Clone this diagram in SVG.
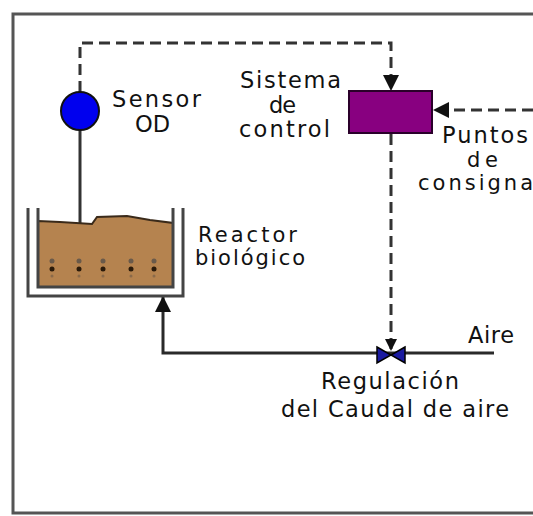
<svg xmlns="http://www.w3.org/2000/svg" width="533" height="516" viewBox="0 0 533 516">
<defs>
<style>
.t{font-family:"DejaVu Sans","Verdana",sans-serif;font-size:22.5px;fill:#111}
.s{font-size:21px}
.dash{fill:none;stroke:#333;stroke-width:3;stroke-dasharray:11 6}
.solid{fill:none;stroke:#2a2a2a;stroke-width:3}
.wall{fill:none;stroke:#444;stroke-width:3}
</style>
<marker id="arr" viewBox="0 0 16 16" refX="15" refY="8" markerWidth="16" markerHeight="16" markerUnits="userSpaceOnUse" orient="auto">
<path d="M0,0 L16,8 L0,16 Z" fill="#111"/>
</marker>
<marker id="arrs" viewBox="0 0 12 12" refX="11" refY="6" markerWidth="12" markerHeight="12" markerUnits="userSpaceOnUse" orient="auto">
<path d="M0,0 L12,6 L0,12 Z" fill="#111"/>
</marker>
</defs>
<rect width="533" height="516" fill="#fff"/>
<path d="M533,14 H13 V513 H533" fill="none" stroke="#555" stroke-width="3"/>

<g id="connectors">
<path class="dash" d="M80,92 V43 H391 V90" marker-end="url(#arr)"/>
<path class="dash" d="M533,110 H434" marker-end="url(#arr)"/>
<path class="dash" d="M391,134 V350" marker-end="url(#arrs)"/>
<path class="solid" d="M494,353 H163 V297" marker-end="url(#arr)"/>
<line x1="80" y1="129" x2="80" y2="252" stroke="#333" stroke-width="3"/>
</g>

<g id="sensor">
<circle cx="80" cy="111" r="19" fill="#0000ee" stroke="#111" stroke-width="2"/>
<text class="t"><tspan x="112" y="107" textLength="89" lengthAdjust="spacing">Sensor</tspan><tspan x="135" y="132" textLength="35" lengthAdjust="spacing">OD</tspan></text>
</g>

<g id="control">
<rect x="349" y="91" width="83" height="42" fill="#880080" stroke="#2a002a" stroke-width="2"/>
<text class="t"><tspan x="240" y="88" textLength="101" lengthAdjust="spacing">Sistema</tspan><tspan x="269" y="113" textLength="27" lengthAdjust="spacing">de</tspan><tspan x="239" y="137" textLength="91" lengthAdjust="spacing">control</tspan></text>
</g>

<g id="consigna">
<text class="t"><tspan x="442" y="143" textLength="86" lengthAdjust="spacing">Puntos</tspan></text>
<text class="t s"><tspan x="467" y="167" textLength="31" lengthAdjust="spacing">de</tspan><tspan x="418" y="190" textLength="115" lengthAdjust="spacing">consigna</tspan></text>
</g>

<g id="reactor">
<path d="M38,221 L60,222 L92,224 L97,217 L127,216 L150,220 L173,223 L173,287 L38,287 Z" fill="#b5834f" stroke="#3a2a1a" stroke-width="2"/>
<path class="wall" d="M38,208 V287 H173 V208"/>
<path class="wall" d="M28,208 V296 H183 V208"/>
<g fill="#2a1a0a">
<circle cx="52" cy="261" r="2.5" fill="#6a5a4a"/><circle cx="52" cy="269" r="2.5"/><circle cx="52" cy="276" r="1.5" fill="#8a6a4a"/>
<circle cx="79" cy="261" r="2.5" fill="#6a5a4a"/><circle cx="79" cy="269" r="2.5"/><circle cx="79" cy="276" r="1.5" fill="#8a6a4a"/>
<circle cx="103" cy="261" r="2.5" fill="#6a5a4a"/><circle cx="103" cy="269" r="2.5"/><circle cx="103" cy="276" r="1.5" fill="#8a6a4a"/>
<circle cx="131" cy="261" r="2.5" fill="#6a5a4a"/><circle cx="131" cy="269" r="2.5"/><circle cx="131" cy="276" r="1.5" fill="#8a6a4a"/>
<circle cx="154" cy="261" r="2.5" fill="#6a5a4a"/><circle cx="154" cy="269" r="2.5"/><circle cx="154" cy="276" r="1.5" fill="#8a6a4a"/>
</g>
<text class="t s"><tspan x="198" y="242" textLength="99" lengthAdjust="spacing">Reactor</tspan><tspan x="195" y="265" textLength="110" lengthAdjust="spacing">biológico</tspan></text>
</g>

<g id="valve">
<path d="M377,347 L391,355 L377,363 Z M405,347 L391,355 L405,363 Z" fill="#1a1aa0" stroke="#000" stroke-width="1.5"/>
<text class="t"><tspan x="321" y="389" textLength="138" lengthAdjust="spacing">Regulación</tspan><tspan x="281" y="417" textLength="228" lengthAdjust="spacing">del Caudal de  aire</tspan></text>
</g>

<g id="aire">
<text class="t" x="468" y="343" textLength="46" lengthAdjust="spacing">Aire</text>
</g>
</svg>
